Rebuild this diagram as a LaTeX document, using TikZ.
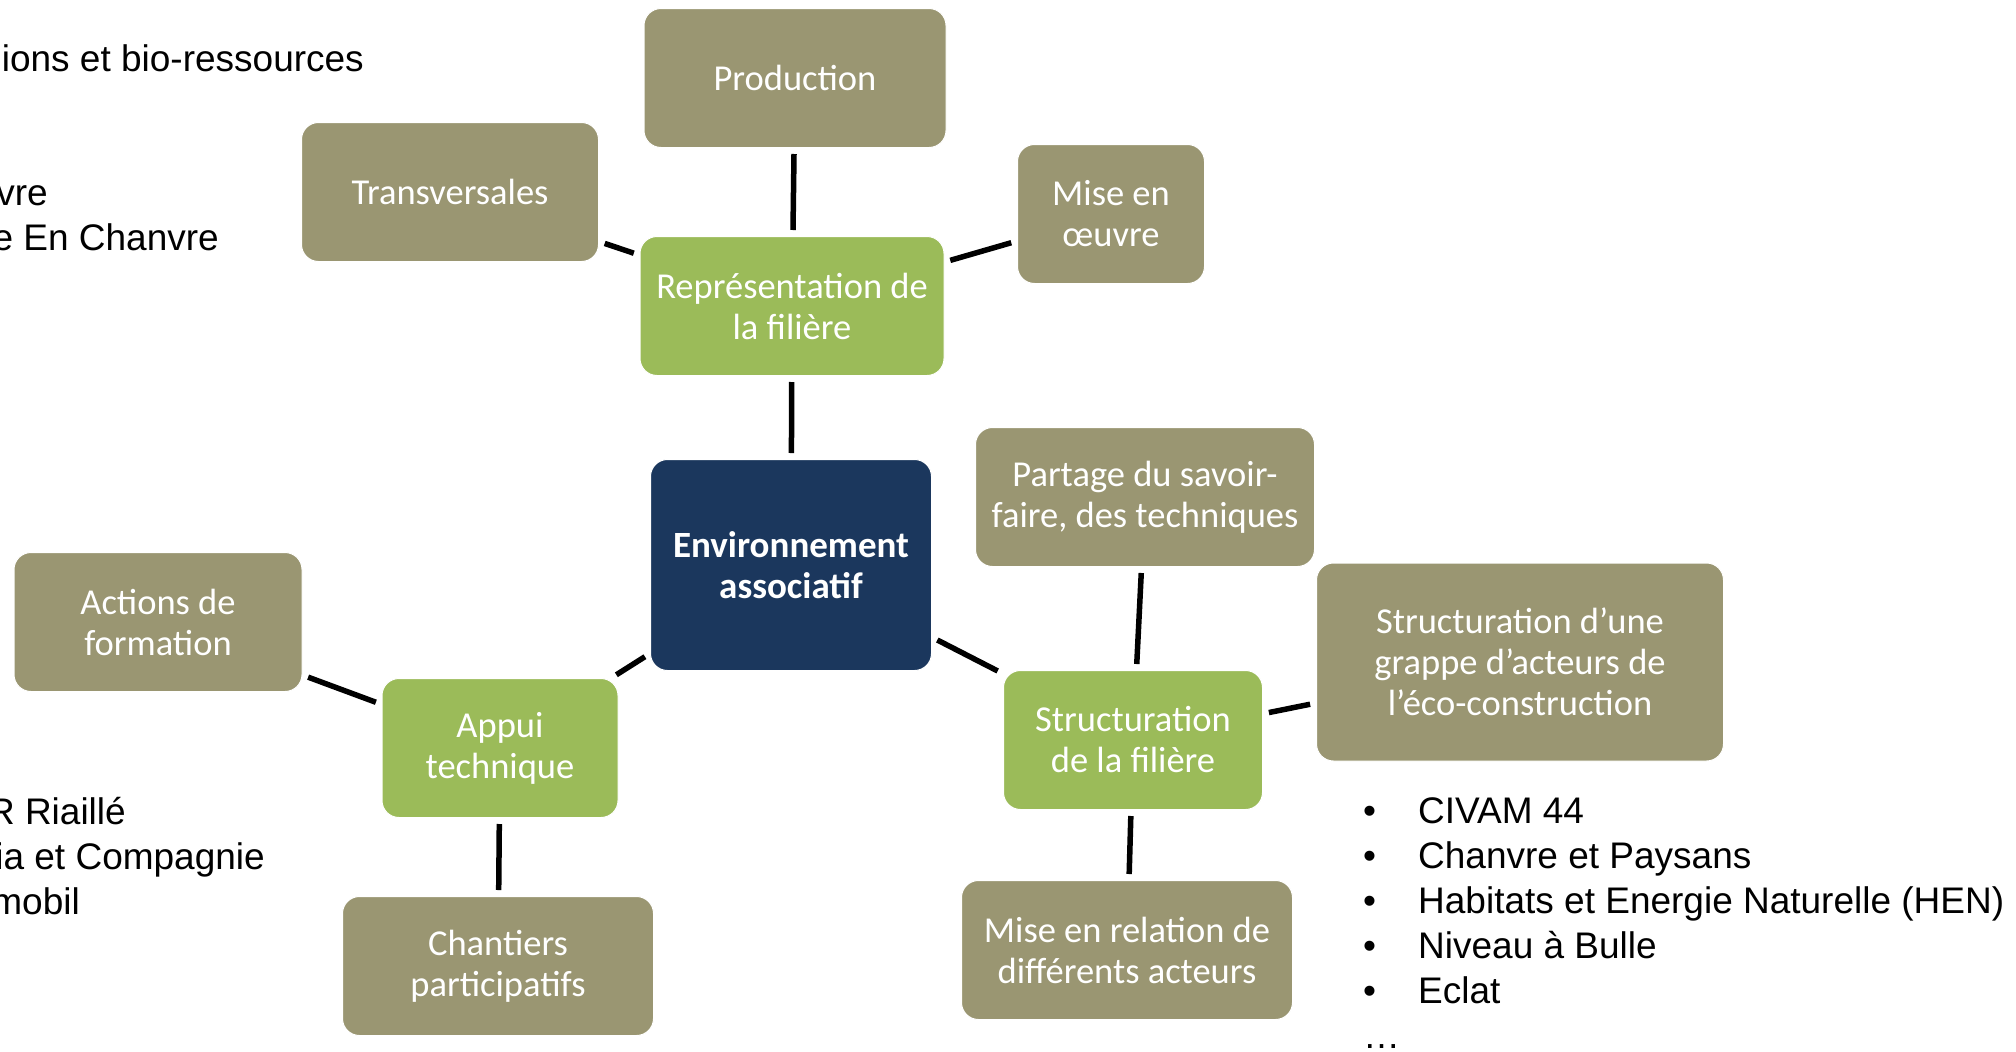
\documentclass[tikz,border=0pt]{standalone}
\usepackage{fontspec}
\setmainfont{Carlito}
\newfontfamily\listfont{Liberation Sans}

\definecolor{boxolive}{HTML}{9A9672}
\definecolor{boxgreen}{HTML}{9BBB59}
\definecolor{boxnavy}{HTML}{1B375D}

\begin{document}
\begin{tikzpicture}[x=1pt, y=-1pt,
    box/.style={rectangle, rounded corners=17pt, draw=white, line width=1pt,
        text=white, align=center, inner sep=0pt,
        font=\fontsize{36.5}{41}\selectfont},
    olivebox/.style={box, fill=boxolive},
    greenbox/.style={box, fill=boxgreen},
    navybox/.style={box, fill=boxnavy, font=\fontsize{37}{41}\selectfont\bfseries},
    listtext/.style={inner sep=0pt, align=left,
        font=\listfont\fontsize{37}{45}\selectfont},
    link/.style={line width=5.5pt, shorten <=6pt, shorten >=6pt}
    ]
    \path[use as bounding box, fill=white] (0,0) rectangle (2016,1052);
    \clip (0,0) rectangle (2016,1052);

    % centre
    \node[navybox, minimum width=281pt, minimum height=211pt] (env) at (791,565) {Environnement\\associatif};

    % branches
    \node[greenbox, minimum width=304pt, minimum height=139pt] (repr) at (792,306) {Représentation de\\la filière};
    \node[greenbox, minimum width=236pt, minimum height=139pt] (appui) at (500,748) {Appui\\technique};
    \node[greenbox, minimum width=259pt, minimum height=139pt] (struct) at (1133,740) {Structuration\\de la filière};

    \node[olivebox, minimum width=302pt, minimum height=139pt] (prod) at (795,78) {Production};
    \node[olivebox, minimum width=297pt, minimum height=139pt] (trans) at (450,192) {Transversales};
    \node[olivebox, minimum width=187pt, minimum height=139pt] (oeuvre) at (1111,214) {Mise en\\œuvre};
    \node[olivebox, minimum width=288pt, minimum height=139pt] (actions) at (158,622) {Actions de\\formation};
    \node[olivebox, minimum width=311pt, minimum height=139pt] (chantiers) at (498,966) {Chantiers\\participatifs};
    \node[olivebox, minimum width=339pt, minimum height=139pt] (partage) at (1145,497) {Partage du savoir-\\faire, des techniques};
    \node[olivebox, minimum width=407pt, minimum height=198pt] (grappe) at (1520,662) {Structuration d’une\\grappe d’acteurs de\\l’éco-construction};
    \node[olivebox, minimum width=331pt, minimum height=139pt] (relation) at (1127,950) {Mise en relation de\\différents acteurs};

    \draw[link] (env) -- (repr);
    \draw[link] (env) -- (appui);
    \draw[link] (env) -- (struct);
    \draw[link] (repr) -- (prod);
    \draw[link] (repr) -- (trans);
    \draw[link] (repr) -- (oeuvre);
    \draw[link] (appui) -- (actions);
    \draw[link] (appui) -- (chantiers);
    \draw[link] (struct) -- (partage);
    \draw[link] (struct) -- (grappe);
    \draw[link] (struct) -- (relation);

    % lists
    \node[listtext, anchor=base east] (lstA) at (364,71) {ions et bio-ressources};
    \node[listtext, anchor=base east] (lstB) at (48,205) {vre};
    \node[listtext, anchor=base east] (lstC) at (219,250) {e En Chanvre};
    \node[listtext, anchor=base east] (lstD) at (126,824) {R Riaillé};
    \node[listtext, anchor=base east] (lstE) at (265,869) {ia et Compagnie};
    \node[listtext, anchor=base east] (lstF) at (80,914) {mobil};

    \node[listtext, anchor=base west] (acteurs) at (1363,1048)
        {\makebox[55pt][l]{•}CIVAM 44\\
         \makebox[55pt][l]{•}Chanvre et Paysans\\
         \makebox[55pt][l]{•}Habitats et Energie Naturelle (HEN)\\
         \makebox[55pt][l]{•}Niveau à Bulle\\
         \makebox[55pt][l]{•}Eclat\\
         …};
\end{tikzpicture}
\end{document}
